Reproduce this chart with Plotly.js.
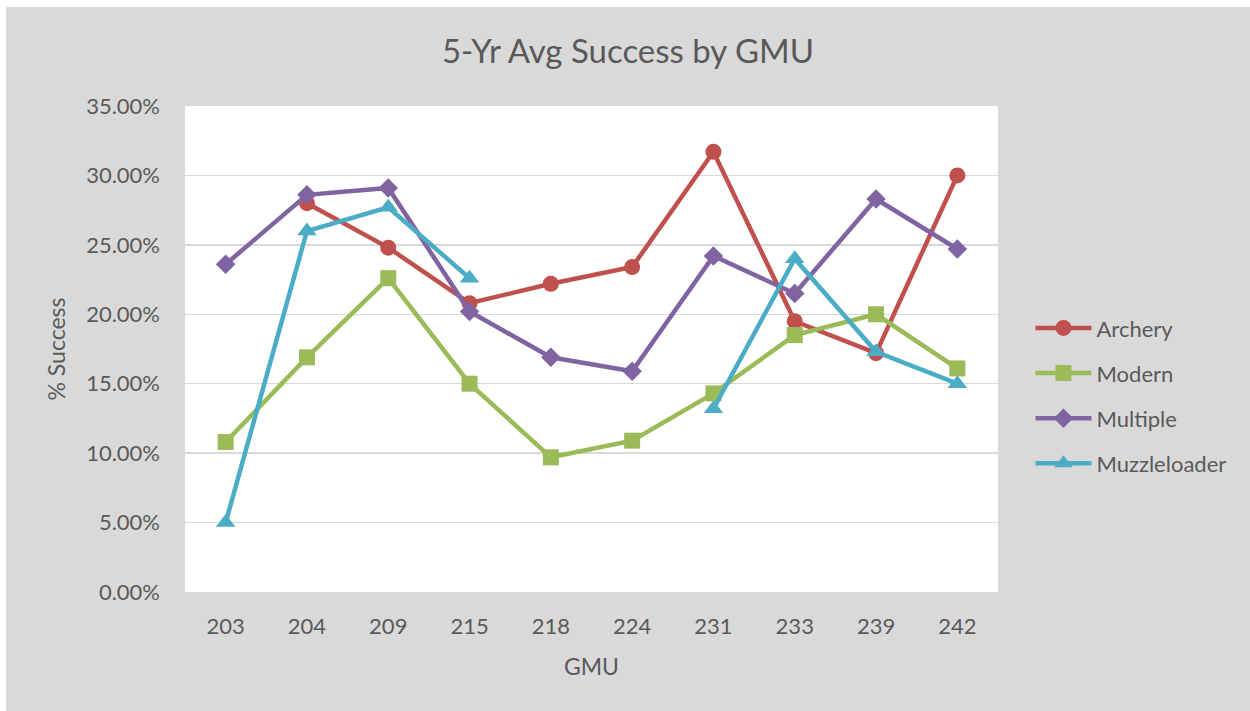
<!DOCTYPE html>
<html>
<head>
<meta charset="utf-8">
<script src="https://cdn.plot.ly/plotly-3.0.1.min.js"></script>
<style>
html,body{margin:0;padding:0;background:#ffffff;}
#chart{position:absolute;left:6px;top:7px;width:1244px;height:704px;}
</style>
</head>
<body>
<div id="chart"></div>
<script>
const categories = ["203","204","209","215","218","224","231","233","239","242"];
const archery = [null, 0.280, 0.248, 0.208, 0.222, 0.234, 0.317, 0.195, 0.172, 0.300];
const modern = [0.108, 0.169, 0.226, 0.150, 0.097, 0.109, 0.143, 0.185, 0.200, 0.161];
const multiple = [0.236, 0.286, 0.291, 0.202, 0.169, 0.159, 0.242, 0.215, 0.283, 0.247];
const muzzleloader = [0.050, 0.260, 0.277, 0.226, null, null, 0.132, 0.240, 0.173, 0.150];
const yTicks = [0, 0.05, 0.10, 0.15, 0.20, 0.25, 0.30, 0.35];

const series = [
  {name: "Archery", y: archery, color: "#c0504d", symbol: "circle", size: 16},
  {name: "Modern", y: modern, color: "#9bbb59", symbol: "square", size: 16},
  {name: "Multiple", y: multiple, color: "#8064a2", symbol: "diamond", size: 15},
  {name: "Muzzleloader", y: muzzleloader, color: "#4bacc6", symbol: "triangle-up", size: 17}
];

const traces = series.map((s, i) => ({
  type: "scatter",
  mode: "lines+markers",
  name: s.name,
  x: categories,
  y: s.y,
  connectgaps: false,
  legendgroup: "g" + i,
  line: {color: s.color, width: 4.5},
  marker: {color: s.color, symbol: s.symbol, size: s.size}
}));

const font = "Lato, 'Open Sans', 'Noto Sans', sans-serif";
const layout = {
  width: 1244,
  height: 704,
  paper_bgcolor: "#d9d9d9",
  plot_bgcolor: "#ffffff",
  margin: {l: 179, r: 252, t: 99, b: 119},
  font: {family: font, color: "#595959", size: 22},
  title: {text: "5-Yr Avg Success by GMU", font: {family: font, size: 33, color: "#595959"}, x: 0.5, xanchor: "center", y: 0.937, yanchor: "middle"},
  xaxis: {
    type: "category",
    range: [-0.5, 9.5],
    title: {text: "GMU", font: {size: 23, color: "#595959"}, standoff: 20},
    tickfont: {size: 22, color: "#595959"},
    showgrid: false,
    showline: false,
    zeroline: false,
    ticks: "",
    ticklabelstandoff: 19
  },
  yaxis: {
    range: [0, 0.35],
    tickvals: yTicks,
    tickformat: ".2%",
    title: {text: "% Success", font: {size: 23, color: "#595959"}, standoff: 14},
    tickfont: {size: 22, color: "#595959"},
    showgrid: true,
    gridcolor: "#d9d9d9",
    gridwidth: 1.5,
    zeroline: false,
    showline: false,
    ticks: "",
    ticklabelstandoff: 24
  },
  legend: {
    x: 1.04,
    xanchor: "left",
    y: 0.404,
    yanchor: "middle",
    bgcolor: "rgba(0,0,0,0)",
    font: {size: 22, color: "#595959"},
    traceorder: "grouped",
    tracegroupgap: 13.5,
    itemwidth: 56
  },
  showlegend: true
};

Plotly.newPlot("chart", traces, layout, {displayModeBar: false, staticPlot: true});
</script>
</body>
</html>
